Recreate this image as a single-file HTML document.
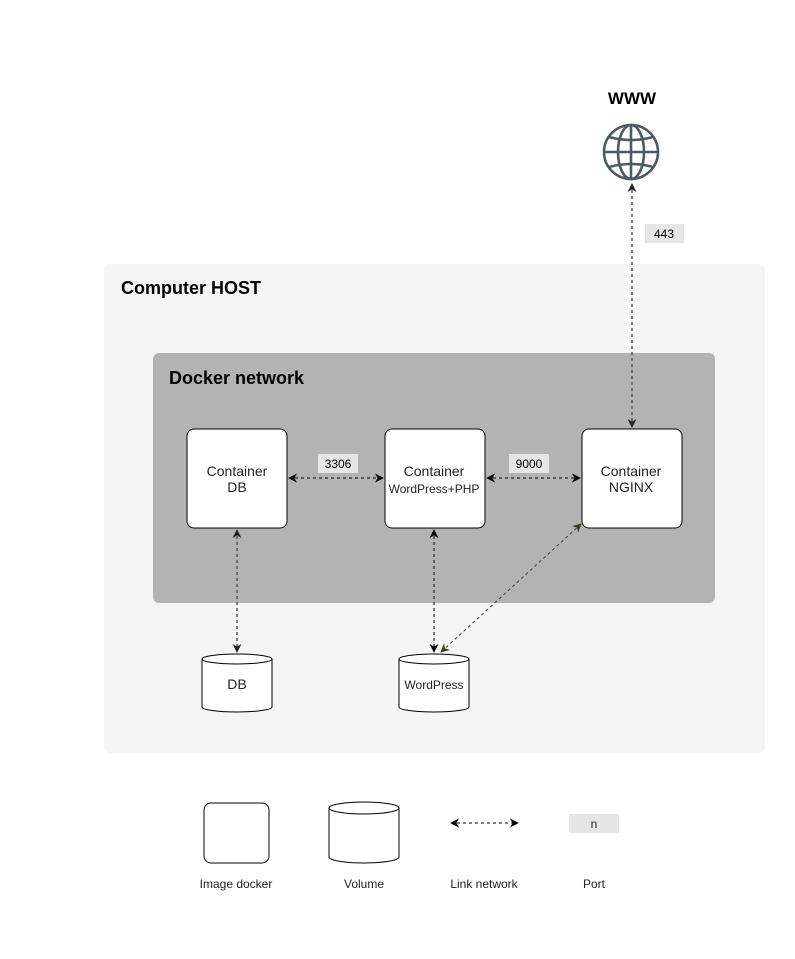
<!DOCTYPE html>
<html><head><meta charset="utf-8"><style>
html,body{margin:0;padding:0;background:#fff;}
body{width:795px;height:954px;overflow:hidden;font-family:"Liberation Sans",Arial,sans-serif;}
</style></head><body>
<svg width="795" height="954" viewBox="0 0 795 954" xmlns="http://www.w3.org/2000/svg" font-family="Liberation Sans, Arial, sans-serif">
<defs>
<marker id="a" viewBox="0 0 10 10" refX="9" refY="5" markerWidth="9" markerHeight="9" orient="auto-start-reverse" markerUnits="userSpaceOnUse">
<path d="M0,0 L10,5 L0,10 L3,5 z" fill="#000"/></marker>
<marker id="ag" viewBox="0 0 10 10" refX="9" refY="5" markerWidth="9" markerHeight="9" orient="auto-start-reverse" markerUnits="userSpaceOnUse">
<path d="M0,0 L10,5 L0,10 L3,5 z" fill="#222"/></marker>
<marker id="ao" viewBox="0 0 10 10" refX="9" refY="5" markerWidth="9" markerHeight="9" orient="auto-start-reverse" markerUnits="userSpaceOnUse">
<path d="M0,0 L10,5 L0,10 L3,5 z" fill="#3d3d28"/></marker>
</defs>
<text x="632" y="104" font-size="17" font-weight="bold" text-anchor="middle">WWW</text>
<g stroke="#4b5a63" stroke-width="2.6" fill="none">
<circle cx="631" cy="152" r="27"/>
<ellipse cx="631" cy="152" rx="13" ry="27"/>
<line x1="631" y1="125" x2="631" y2="179"/>
<line x1="604" y1="152" x2="658" y2="152"/>
<path d="M609,137 Q631,143 653,137"/>
<path d="M609,167 Q631,161 653,167"/>
</g>
<rect x="104" y="264" width="661" height="489" rx="6" fill="#f5f5f5"/>
<text x="121" y="294" font-size="18" font-weight="bold">Computer HOST</text>
<rect x="153" y="353" width="562" height="250" rx="6" fill="#b3b3b3"/>
<text x="169" y="384" font-size="18" font-weight="bold">Docker network</text>
<rect x="645" y="224" width="39" height="19" fill="#e6e6e6"/>
<text x="664" y="238" font-size="12" text-anchor="middle">443</text>
<line x1="632" y1="184" x2="632" y2="427" stroke="#555" stroke-width="1.5" stroke-dasharray="3,3" marker-start="url(#ag)" marker-end="url(#ag)"/>
<g fill="#fff" stroke="#000" stroke-width="1">
<rect x="187" y="429" width="100" height="99" rx="7"/>
<rect x="385" y="429" width="100" height="99" rx="7"/>
<rect x="582" y="429" width="100" height="99" rx="7"/>
</g>
<g font-size="14" fill="#222" text-anchor="middle">
<text x="237" y="476">Container</text><text x="237" y="492">DB</text>
<text x="434" y="476">Container</text><text x="434" y="493" font-size="12">WordPress+PHP</text>
<text x="631" y="476">Container</text><text x="631" y="492">NGINX</text>
</g>
<rect x="318" y="454" width="40" height="19" fill="#e6e6e6"/>
<text x="338" y="468" font-size="12" text-anchor="middle">3306</text>
<rect x="509" y="454" width="40" height="19" fill="#e6e6e6"/>
<text x="529" y="468" font-size="12" text-anchor="middle">9000</text>
<line x1="289" y1="478" x2="383" y2="478" stroke="#000" stroke-dasharray="3,3" marker-start="url(#a)" marker-end="url(#a)"/>
<line x1="487" y1="478" x2="580" y2="478" stroke="#000" stroke-dasharray="3,3" marker-start="url(#a)" marker-end="url(#a)"/>
<line x1="237" y1="530" x2="237" y2="652" stroke="#555" stroke-width="1.5" stroke-dasharray="3,3" marker-start="url(#ag)" marker-end="url(#ag)"/>
<line x1="434" y1="530" x2="434" y2="652" stroke="#000" stroke-dasharray="3,3" marker-start="url(#a)" marker-end="url(#a)"/>
<line x1="581" y1="524" x2="441" y2="652" stroke="#3d3d28" stroke-dasharray="3,3" marker-start="url(#ao)" marker-end="url(#ao)"/>
<g fill="#fff" stroke="#000" stroke-width="1">
<path d="M202,659 L202,707 A35,5 0 0 0 272,707 L272,659"/>
<ellipse cx="237" cy="659" rx="35" ry="5"/>
<path d="M399,659 L399,707 A35,5 0 0 0 469,707 L469,659"/>
<ellipse cx="434" cy="659" rx="35" ry="5"/>
<rect x="204" y="803" width="65" height="60" rx="7"/>
<path d="M329,808 L329,857 A35,6 0 0 0 399,857 L399,808"/>
<ellipse cx="364" cy="808" rx="35" ry="6"/>
</g>
<text x="237" y="689" font-size="14" fill="#222" text-anchor="middle">DB</text>
<text x="434" y="689" font-size="12" fill="#222" text-anchor="middle">WordPress</text>
<line x1="451" y1="823" x2="518" y2="823" stroke="#000" stroke-dasharray="3,3" marker-start="url(#a)" marker-end="url(#a)"/>
<rect x="569" y="814" width="50" height="19" fill="#e6e6e6"/>
<text x="594" y="828" font-size="12" text-anchor="middle" fill="#222">n</text>
<g font-size="12" fill="#222" text-anchor="middle">
<text x="236" y="888">Image docker</text>
<text x="364" y="888">Volume</text>
<text x="484" y="888">Link network</text>
<text x="594" y="888">Port</text>
</g>
</svg>
</body></html>
